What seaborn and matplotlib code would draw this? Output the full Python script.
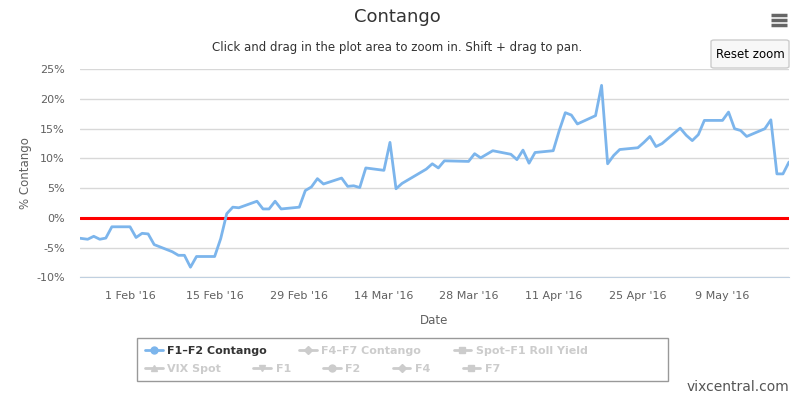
import numpy as np
import pandas as pd
import matplotlib.pyplot as plt
import seaborn as sns
from matplotlib.lines import Line2D
from matplotlib.patches import Rectangle, FancyBboxPatch

# F1-F2 contango (trading days)
dates = ["2016-01-22", "2016-01-25", "2016-01-26", "2016-01-27", "2016-01-28", "2016-01-29",
         "2016-02-01", "2016-02-02", "2016-02-03", "2016-02-04", "2016-02-05",
         "2016-02-08", "2016-02-09", "2016-02-10", "2016-02-11", "2016-02-12",
         "2016-02-15", "2016-02-16", "2016-02-17", "2016-02-18", "2016-02-19",
         "2016-02-22", "2016-02-23", "2016-02-24", "2016-02-25", "2016-02-26",
         "2016-02-29", "2016-03-01", "2016-03-02", "2016-03-03", "2016-03-04",
         "2016-03-07", "2016-03-08", "2016-03-09", "2016-03-10", "2016-03-11",
         "2016-03-14", "2016-03-15", "2016-03-16", "2016-03-17", "2016-03-18",
         "2016-03-21", "2016-03-22", "2016-03-23", "2016-03-24",
         "2016-03-28", "2016-03-29", "2016-03-30", "2016-03-31", "2016-04-01",
         "2016-04-04", "2016-04-05", "2016-04-06", "2016-04-07", "2016-04-08",
         "2016-04-11", "2016-04-12", "2016-04-13", "2016-04-14", "2016-04-15",
         "2016-04-18", "2016-04-19", "2016-04-20", "2016-04-21", "2016-04-22",
         "2016-04-25", "2016-04-26", "2016-04-27", "2016-04-28", "2016-04-29",
         "2016-05-02", "2016-05-03", "2016-05-04", "2016-05-05", "2016-05-06",
         "2016-05-09", "2016-05-10", "2016-05-11", "2016-05-12", "2016-05-13",
         "2016-05-16", "2016-05-17", "2016-05-18", "2016-05-19", "2016-05-20"]
contango = [-3.2, -3.6, -3.1, -3.6, -3.4, -1.5,
            -1.5, -3.3, -2.6, -2.7, -4.5,
            -5.7, -6.3, -6.3, -8.3, -6.5,
            -6.5, -3.5, 0.7, 1.8, 1.7,
            2.8, 1.5, 1.5, 2.8, 1.5,
            1.8, 4.6, 5.2, 6.6, 5.7,
            6.7, 5.3, 5.4, 5.1, 8.4,
            8.0, 12.7, 4.9, 5.8, 6.4,
            8.2, 9.1, 8.4, 9.6,
            9.5, 10.8, 10.1, 10.7, 11.3,
            10.7, 9.8, 11.4, 9.2, 11.0,
            11.3, 14.7, 17.7, 17.3, 15.8,
            17.2, 22.3, 9.1, 10.5, 11.5,
            11.8, 12.7, 13.7, 12.0, 12.5,
            15.1, 13.9, 13.0, 14.0, 16.4,
            16.4, 17.8, 15.0, 14.7, 13.7,
            15.0, 16.5, 7.4, 7.4, 9.4]

legend_row1 = ["F1\u2013F2 Contango", "F4\u2013F7 Contango", "Spot\u2013F1 Roll Yield"]
legend_row2 = ["VIX Spot", "F1", "F2", "F4", "F7"]
y_ticks = [-10, -5, 0, 5, 10, 15, 20, 25]

df = pd.DataFrame({"date": pd.to_datetime(dates), "contango": contango})

sns.set_style("white")
plt.rcParams['font.family'] = ['DejaVu Sans']

fig = plt.figure(figsize=(7.95, 3.97), dpi=100)
ax = fig.add_axes([80/795, 1-277.3/397, 709/795, 208/397])

sns.lineplot(data=df, x="date", y="contango", color="#7cb5ec", lw=2, ax=ax, zorder=3)
ax.axhline(0, color="#ff0000", lw=2.2, zorder=2)

ax.set_ylim(-10, 25)
ax.set_yticks(y_ticks)
ax.set_yticklabels([f"{t}%" for t in y_ticks])
ax.set_xlim(pd.Timestamp("2016-01-23 17:30"), pd.Timestamp("2016-05-20"))
xt = pd.date_range("2016-02-01", "2016-05-09", freq="14D")
ax.set_xticks(xt)
ax.set_xticklabels([f"{d.day} {d.strftime('%b')} '16" for d in xt])

ax.yaxis.grid(True, color="#d8d8d8", lw=1)
ax.set_axisbelow(True)
for s in ["left", "right", "top"]:
    ax.spines[s].set_visible(False)
ax.spines["bottom"].set_color("#c0d0e0")
ax.tick_params(axis="y", length=0, pad=11, labelsize=8, labelcolor="#606060")
ax.tick_params(axis="x", length=8, color="#c0d0e0", labelsize=8, labelcolor="#606060", pad=2)

ax.set_xlabel("Date", fontsize=8.5, color="#606060", labelpad=9)
ax.set_ylabel("% Contango", fontsize=8.5, color="#606060")
ax.yaxis.set_label_coords((32-80)/709, 0.5)

fig.text(0.5, 1-17/397, "Contango", ha="center", va="center", fontsize=13, color="#333333")
fig.text(0.5, 1-47/397, "Click and drag in the plot area to zoom in. Shift + drag to pan.",
         ha="center", va="center", fontsize=8.5, color="#333333")

# reset zoom button and menu icon
fig.add_artist(FancyBboxPatch((711/795, 1-68/397), 78/795, 28/397, transform=fig.transFigure,
                              boxstyle="round,pad=0,rounding_size=0.004", fc="#f7f7f7", ec="#cccccc", lw=1))
fig.text(750/795, 1-54/397, "Reset zoom", ha="center", va="center", fontsize=8.5, color="black")
for yy in [15, 20, 25]:
    fig.add_artist(Line2D([771/795, 787/795], [1-yy/397, 1-yy/397], transform=fig.transFigure,
                          color="#666666", lw=2.5, solid_capstyle="butt"))

# legend
grey = "#cccccc"
h1 = [Line2D([], [], color="#7cb5ec", marker="o", lw=2, ms=5),
      Line2D([], [], color=grey, marker="D", lw=2, ms=4),
      Line2D([], [], color=grey, marker="s", lw=2, ms=5)]
h2 = [Line2D([], [], color=grey, marker="^", lw=2, ms=5),
      Line2D([], [], color=grey, marker="v", lw=2, ms=5),
      Line2D([], [], color=grey, marker="o", lw=2, ms=5),
      Line2D([], [], color=grey, marker="D", lw=2, ms=4),
      Line2D([], [], color=grey, marker="s", lw=2, ms=5)]
leg_kw = dict(loc="center left", frameon=False, handlelength=1.6, handletextpad=0.4,
              columnspacing=2.9, borderpad=0, borderaxespad=0,
              prop={"weight": "bold", "size": 8})
leg1 = fig.legend(h1, legend_row1, ncol=3, bbox_to_anchor=(145/795, 1-351/397), **leg_kw)
leg2 = fig.legend(h2, legend_row2, ncol=5, bbox_to_anchor=(145/795, 1-369/397), **leg_kw)
for i, t in enumerate(leg1.get_texts()):
    t.set_color("#333333" if i == 0 else grey)
for t in leg2.get_texts():
    t.set_color(grey)
fig.add_artist(Rectangle((137/795, 1-381/397), 531/795, 43/397, transform=fig.transFigure,
                         fill=False, ec="#999999", lw=1))

fig.text(789/795, 1-387/397, "vixcentral.com", ha="right", va="center", fontsize=10, color="#555555")

fig.savefig("out.png", dpi=100)
